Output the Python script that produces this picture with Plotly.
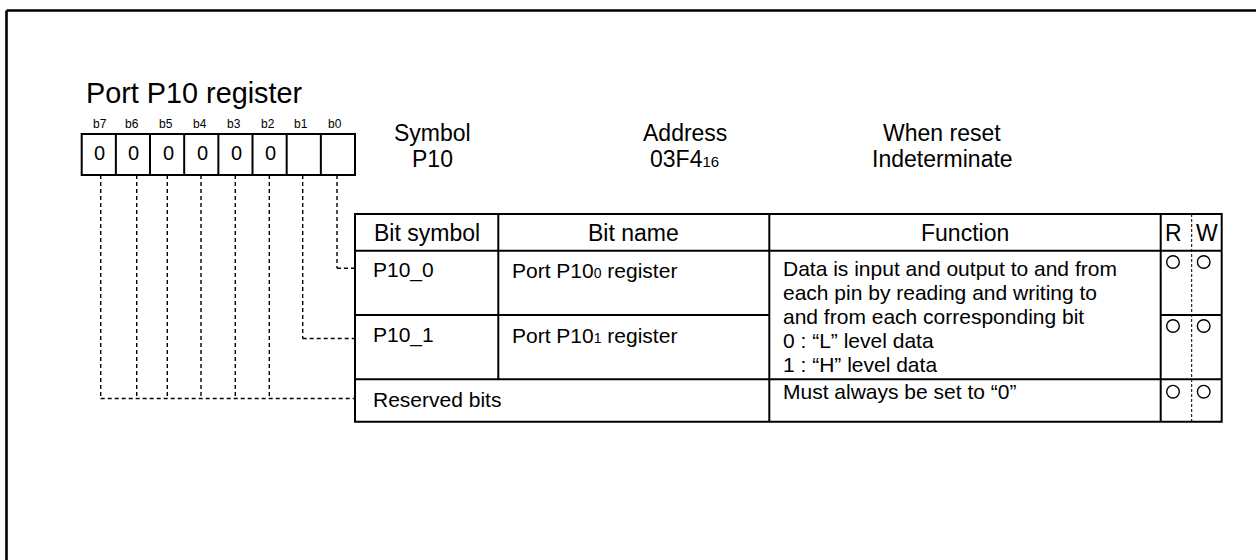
import plotly.graph_objects as go

# ---------------- data ----------------
title_text = "Port P10 register"
bit_labels = ["b7", "b6", "b5", "b4", "b3", "b2", "b1", "b0"]
bit_values = ["0", "0", "0", "0", "0", "0", "", ""]

info_titles = ["Symbol", "Address", "When reset"]
info_values = ["P10", "03F4<span style='font-size:15px'>16</span>", "Indeterminate"]

table_headers = ["Bit symbol", "Bit name", "Function", "R", "W"]
bit_symbols = ["P10_0", "P10_1", "Reserved bits"]
bit_names = ["Port P10<span style='font-size:14px'>0</span> register",
             "Port P10<span style='font-size:14px'>1</span> register", ""]
function_lines = ["Data is input and output to and from",
                  "each pin by reading and writing to",
                  "and from each corresponding bit",
                  "0 : \u201cL\u201d level data",
                  "1 : \u201cH\u201d level data"]
reserved_function = "Must always be set to \u201c0\u201d"
rw_marks = [["O", "O"], ["O", "O"], ["O", "O"]]

# ---------------- layout geometry ----------------
FONT = "Liberation Sans, Arial, Helvetica, sans-serif"
W, H = 1256, 560

shapes = []
ann = []

def line(x0, y0, x1, y1, width=2, dash="solid"):
    shapes.append(dict(type="line", xref="x", yref="y", x0=x0, y0=y0, x1=x1, y1=y1,
                       line=dict(color="black", width=width, dash=dash)))

def text(x, y, s, size, xanchor="center"):
    ann.append(dict(x=x, y=y, xref="x", yref="y", text=s, showarrow=False,
                    xanchor=xanchor, yanchor="middle",
                    font=dict(family=FONT, size=size, color="black")))

# outer frame (extends beyond the canvas on right and bottom)
line(6.5, 10.5, W + 10, 10.5, width=2.6)
line(6.5, 10.5, 6.5, H + 10, width=2.6)

# title
text(84, 93, title_text, 28.8, xanchor="left")

# register box
box_left, box_right, box_top, box_bot = 81.7, 355.0, 134.0, 175.0
cw = (box_right - box_left) / len(bit_labels)
shapes.append(dict(type="rect", xref="x", yref="y", x0=box_left, x1=box_right,
                   y0=box_top, y1=box_bot, line=dict(color="black", width=2)))
for i in range(1, len(bit_labels)):
    line(box_left + i * cw, box_top, box_left + i * cw, box_bot)

label_x = [100, 132, 166, 200.3, 234, 268, 300.7, 335]
for lx, lab in zip(label_x, bit_labels):
    text(lx, 124.3, lab, 12)
for i, v in enumerate(bit_values):
    if v:
        text(box_left + (i + 0.5) * cw + 1, 152.5, v, 20)

# info header
info_x = [432, 684.5, 942]
for x, t, v in zip(info_x, info_titles, info_values):
    text(x, 132.5, t, 23)
    text(x, 159, v, 23)

# table geometry
tl, tr, tt, tb = 355.0, 1221.7, 214.0, 421.7
c1, c2, c3, c4 = 498.3, 769.3, 1160.7, 1191.7
r_head, r1, r2 = 250.7, 315.0, 379.3

shapes.append(dict(type="rect", xref="x", yref="y", x0=tl, x1=tr, y0=tt, y1=tb,
                   line=dict(color="black", width=2)))
line(tl, r_head, tr, r_head)
line(tl, r1, c2, r1)
line(c3, r1, tr, r1)
line(tl, r2, tr, r2)
line(c1, tt, c1, r2)
line(c2, tt, c2, tb)
line(c3, tt, c3, tb)
line(c4, tt, c4, tb, width=1, dash="3px,2px")

# dashed connectors
conn_x = [100.7, 136.7, 167.3, 201, 235.3, 269.3, 302.7, 337]
row_y = [268.3, 338.5, 398.5]
for i, x in enumerate(conn_x):
    if i == 7:
        ty = row_y[0]
    elif i == 6:
        ty = row_y[1]
    else:
        ty = row_y[2]
    line(x, box_bot, x, ty, width=1.4, dash="4px,3px")
line(conn_x[7], row_y[0], tl, row_y[0], width=1.4, dash="4px,3px")
line(conn_x[6], row_y[1], tl, row_y[1], width=1.4, dash="4px,3px")
line(conn_x[0], row_y[2], tl, row_y[2], width=1.4, dash="4px,3px")

# table headers
head_x = [(tl + c1) / 2, (c1 + c2) / 2, (c2 + c3) / 2, 1173, 1207]
for x, h in zip(head_x, table_headers):
    text(x, 232.5, h, 23)

# rows
sym_y = [270, 335, 399.3]
for y, s in zip(sym_y, bit_symbols):
    text(370.7, y, s, 21, xanchor="left")
for y, n in zip(sym_y, bit_names):
    if n:
        text(510, y, n, 21, xanchor="left")

fun_y = [268.3, 292.5, 316.5, 340.3, 364]
for y, s in zip(fun_y, function_lines):
    text(780.7, y, s, 21, xanchor="left")
text(780.7, 391.7, reserved_function, 21, xanchor="left")

# R/W circles
circ_y = [262, 326, 391.7]
circ_x = [1173, 1203.7]
rad = 6.3
for y, marks in zip(circ_y, rw_marks):
    for x, m in zip(circ_x, marks):
        if m:
            shapes.append(dict(type="circle", xref="x", yref="y",
                               x0=x - rad, x1=x + rad, y0=y - rad, y1=y + rad,
                               line=dict(color="black", width=1.4)))

fig = go.Figure()
fig.update_layout(
    width=W, height=H,
    margin=dict(l=0, r=0, t=0, b=0),
    paper_bgcolor="white", plot_bgcolor="white",
    xaxis=dict(range=[0, W], visible=False, fixedrange=True),
    yaxis=dict(range=[H, 0], visible=False, fixedrange=True),
    shapes=shapes, annotations=ann, showlegend=False,
)
fig.write_html("out.html",
               config={"displayModeBar": False},
               post_script="document.body.style.margin='0';document.body.style.overflow='hidden';")
